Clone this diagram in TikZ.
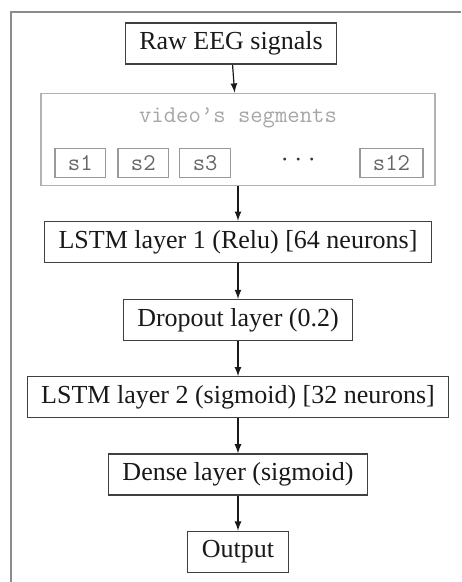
\documentclass[tikz,border=0pt]{standalone}
\usepackage{fontspec}
\setmainfont{Liberation Serif}
\usetikzlibrary{positioning,calc}
\tikzset{
	box/.style = {
		draw = black!75,
		fill = white,
		rectangle,
		line width = 0.6pt,
		text = black!90,
		text centered,
		inner xsep = 7pt,
		inner ysep = 2.5pt,
		minimum height = 20.5pt,
		font = \fontsize{13}{15}\selectfont
	},
	segbox/.style = {
		draw = black!30,
		rectangle,
		line width = 0.6pt,
		minimum width = 197pt,
		minimum height = 46pt
	},
	segtitle/.style = {
		text = black!35,
		font = \fontsize{12}{14}\selectfont\ttfamily
	},
	seg/.style = {
		draw = black!40,
		text = black!60,
		rectangle,
		line width = 0.6pt,
		inner xsep = 6.5pt,
		inner ysep = 2pt,
		minimum height = 14.5pt,
		font = \fontsize{12}{14}\selectfont\ttfamily
	},
	segdots/.style = {
		text = black!80,
		font = \fontsize{13}{14}\selectfont\ttfamily
	},
	link/.style = {->, >=latex, line width = 0.6pt, black!90}
}
\begin{document}
\begin{tikzpicture}
    \useasboundingbox (-115.5pt,21.75pt) rectangle (115pt,-269.25pt) ;
    % frame
    \draw [black!45, line width = 0.8pt] (-110pt,-269.25pt) -- (-110pt,15.75pt) -- (115pt,15.75pt) ;

    \node [box] (raw) at (0,0) {Raw EEG signals} ;
    \node [segbox, below = 14pt of raw, xshift = 3.5pt] (segs) {} ;
    \node [segtitle] (title) at ([yshift=-12.5pt]segs.north) {video’s segments} ;
    \node [seg, anchor = south west] (s1) at ([shift={(7pt,4pt)}]segs.south west) {s1} ;
    \node [seg, right = 5.5pt of s1] (s2) {s2} ;
    \node [seg, right = 5pt of s2] (s3) {s3} ;
    \node [seg, anchor = south east] (s12) at ([shift={(-6pt,4pt)}]segs.south east) {s12} ;
    \node [segdots] (dots) at ($(s3)!0.5!(s12)$) {···} ;

    \node [box, below = 17.5pt of segs] (lstm1) {LSTM layer 1 (Relu) [64 neurons]} ;
    \node [box, below = 18pt of lstm1] (drop) {Dropout layer (0.2)} ;
    \node [box, below = 17.5pt of drop] (lstm2) {LSTM layer 2 (sigmoid) [32 neurons]} ;
    \node [box, below = 17.5pt of lstm2] (dense) {Dense layer (sigmoid)} ;
    \node [box, below = 17.5pt of dense] (out) {Output} ;

    \draw [link] (raw) -- (segs) ;
    \draw [link] (segs) -- (lstm1) ;
    \draw [link] (lstm1) -- (drop) ;
    \draw [link] (drop) -- (lstm2) ;
    \draw [link] (lstm2) -- (dense) ;
    \draw [link] (dense) -- (out) ;
\end{tikzpicture}
\end{document}
